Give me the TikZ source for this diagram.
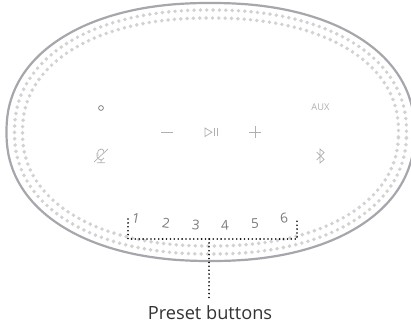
\documentclass[tikz,border=0pt]{standalone}
\usepackage{fontspec}
\setmainfont{Open Sans}
\definecolor{rim}{HTML}{A6A6AC}
\definecolor{perf}{HTML}{D2D2D2}
\definecolor{icon}{HTML}{B0B0B0}
\definecolor{numc}{HTML}{7C7C7C}
\definecolor{lab}{HTML}{333333}
\newcommand{\spkoval}[2]{plot[domain=0.7:359.2,samples=240,smooth cycle] ({210.5+#1*ifthenelse(cos(\x)<0,-1,1)*pow(abs(cos(\x)),0.91)},{132+#2*ifthenelse(sin(\x)<0,-1,1)*pow(abs(sin(\x)),0.91)})}
\tikzset{
  rimline/.style={draw=rim,line width=2.2pt},
  perfrow/.style={draw=perf,line width=3.9pt,line cap=round,dash pattern=on 0pt off 6.35pt},
  iconline/.style={draw=icon,line width=0.7pt},
  numlabel/.style={text=numc,font=\fontsize{13.5}{14}\selectfont,inner sep=0pt},
  pointer/.style={draw=black,line width=1.8pt,line cap=round,dash pattern=on 0pt off 3.9pt},
}
\begin{document}
\begin{tikzpicture}[x=1pt,y=-1pt]
\useasboundingbox (0,0) rectangle (411,328);
\clip (0,0) rectangle (411,328);
\fill[white] (0,0) rectangle (411,328);
\draw[rimline] \spkoval{204}{129};
\draw[perfrow] \spkoval{196}{122};
\draw[perfrow] \spkoval{188}{114};
% icons
\draw[draw=icon!75!black,line width=0.8pt] (101,108) circle (2.4);
\draw[draw=icon,line width=0.9pt] (161,132.3) -- (173,132.3);
\draw[iconline] (205,128) -- (205,136.5) -- (212,132.2) -- cycle;
\draw[iconline] (214.5,128) -- (214.5,136.5) (217.5,128) -- (217.5,136.5);
\draw[iconline] (249,132.5) -- (261,132.5) (255,126.5) -- (255,138.5);
\node[text=icon,font=\fontsize{9.3}{10}\selectfont,inner sep=0pt] (aux) at (320.5,107.5) {AUX};
\draw[iconline] (316.5,152) -- (324,159.5) -- (320,163) -- (320,149) -- (324,152.5) -- (316.5,160);
% microphone
\draw[iconline] (98,156) .. controls (97,150) and (99,149) .. (101.5,149) .. controls (103,149) and (104.5,151) .. (104,153);
\draw[iconline] (97,153) .. controls (96,159) and (100,160) .. (102,160);
\draw[iconline] (104,158) .. controls (103,160) and (102,160) .. (101,160.5) -- (101,162.5) (97,162.7) -- (105,162.7);
\draw[iconline] (94,162) -- (108,149);
% preset numbers
\node[numlabel,rotate=-10] (n1) at (136,218) {1};
\node[numlabel,rotate=-8] (n2) at (166,223) {2};
\node[numlabel,rotate=-5] (n3) at (196,225.5) {3};
\node[numlabel,rotate=4] (n4) at (225,225.5) {4};
\node[numlabel,rotate=3] (n5) at (255,223.5) {5};
\node[numlabel,rotate=8] (n6) at (284,218) {6};
% label and pointer
\node[text=lab,font=\fontsize{18.2}{19}\selectfont,inner sep=0pt,anchor=base] (preset) at (210,319.5) {Preset buttons};
\coordinate (pl) at (128,219);
\coordinate (plc) at (128,239);
\coordinate (prc) at (297,239);
\coordinate (pr) at (297,219);
\coordinate (pm) at (209,239);
\coordinate (pe) at (209,300);
\draw[pointer] (pl) -- (plc) -- (prc) -- (pr);
\draw[pointer] (pm) -- (pe);
\end{tikzpicture}
\end{document}
